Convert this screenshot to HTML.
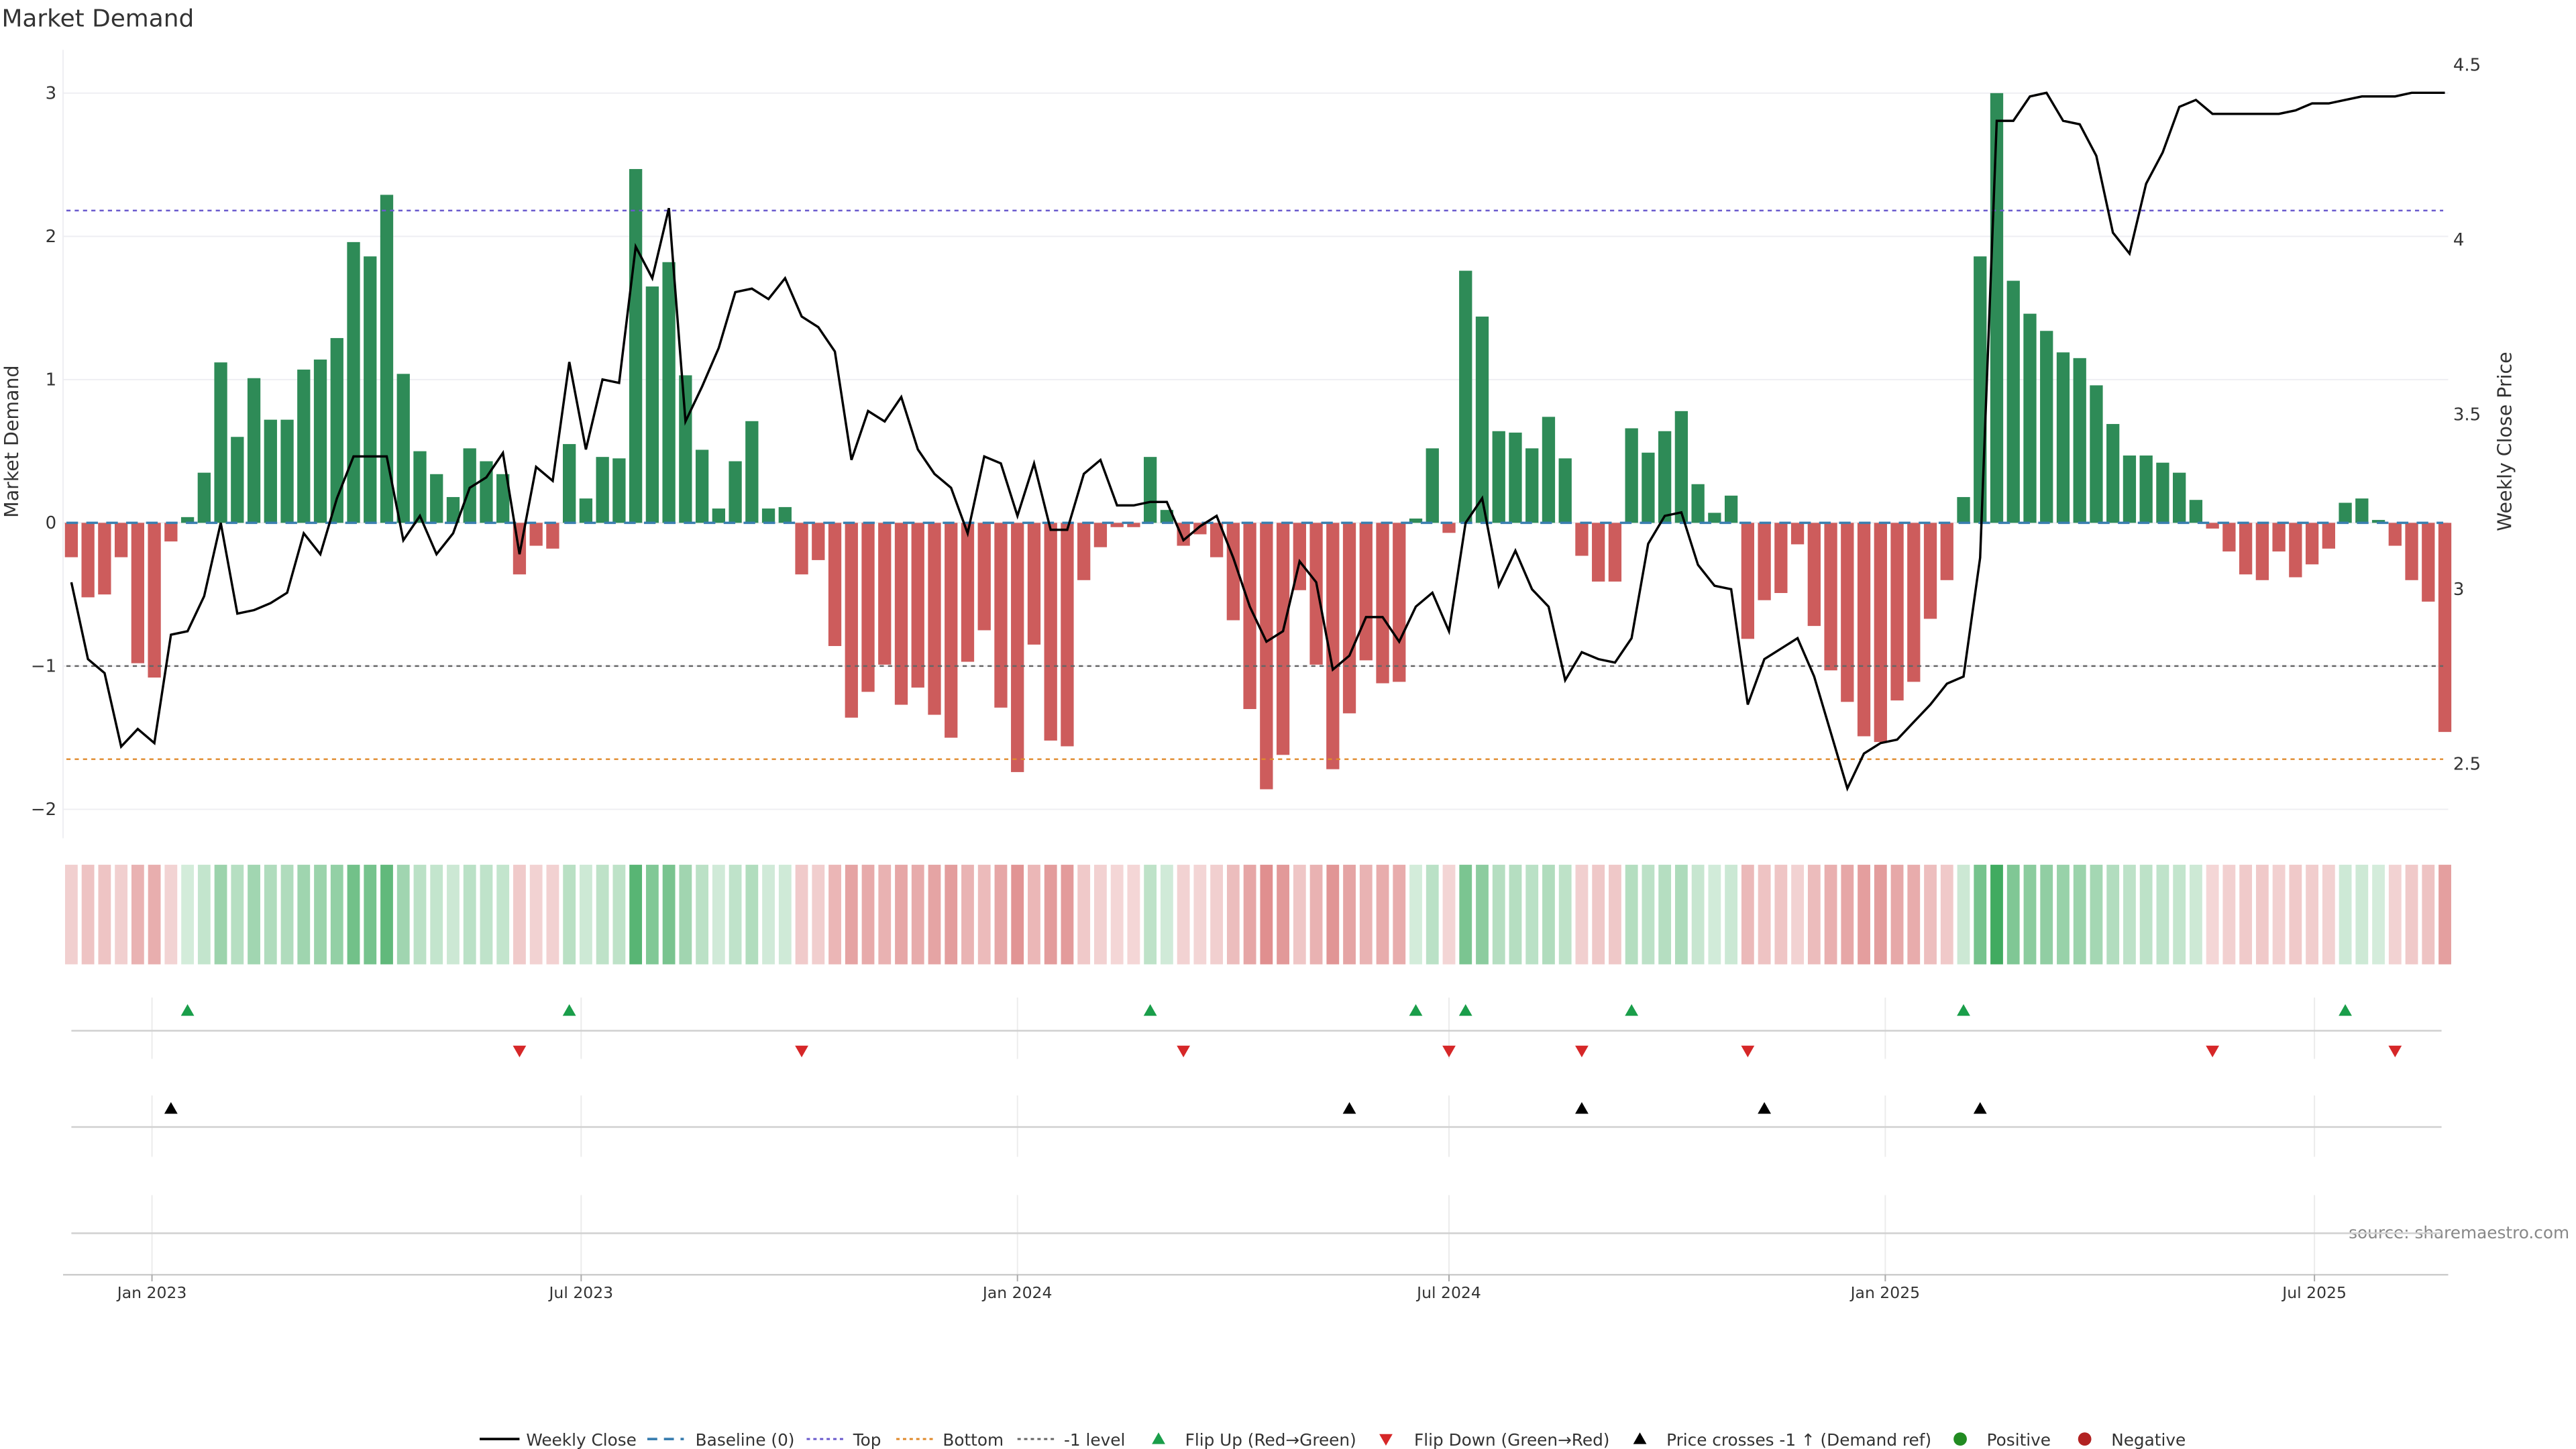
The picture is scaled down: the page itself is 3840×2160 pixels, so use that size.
<!DOCTYPE html>
<html><head><meta charset="utf-8"><style>
html,body{margin:0;padding:0;background:#fff;}
svg{display:block;font-family:"DejaVu Sans","Liberation Sans",sans-serif;}
</style></head><body>
<svg id="chart" width="3840" height="2160" viewBox="0 0 1552 873" preserveAspectRatio="none" xmlns="http://www.w3.org/2000/svg">
<text x="1" y="16" font-size="14.5" fill="#333">Market Demand</text>
<text transform="translate(11,266) rotate(-90)" text-anchor="middle" font-size="11.5" fill="#333">Market Demand</text>
<text transform="translate(1513,266) rotate(-90)" text-anchor="middle" font-size="11.5" fill="#333">Weekly Close Price</text>
<text x="1548" y="746" text-anchor="end" font-size="10" fill="#888">source: sharemaestro.com</text>
<g id="main"></g>
<g id="legend" font-size="10" fill="#333">
  <g><line x1="289" y1="867" x2="313" y2="867" stroke="#000" stroke-width="1.5"/><text x="317" y="871">Weekly Close</text></g>
  <g><line x1="390" y1="867" x2="412" y2="867" stroke="#3a7fb0" stroke-width="1.5" stroke-dasharray="6,4"/><text x="419" y="871">Baseline (0)</text></g>
  <g><line x1="486" y1="867" x2="508" y2="867" stroke="#6a5acd" stroke-width="1.2" stroke-dasharray="2,2"/><text x="514" y="871">Top</text></g>
  <g><line x1="540" y1="867" x2="562" y2="867" stroke="#e08a2c" stroke-width="1.2" stroke-dasharray="2,2"/><text x="568" y="871">Bottom</text></g>
  <g><line x1="613" y1="867" x2="635" y2="867" stroke="#666" stroke-width="1.2" stroke-dasharray="2,2"/><text x="641" y="871">-1 level</text></g>
  <g><path d="M698,863 L702,870 L694,870 Z" fill="#1a9e4a"/><text x="714" y="871">Flip Up (Red→Green)</text></g>
  <g><path d="M831,864 L839,864 L835,871 Z" fill="#d62728"/><text x="852" y="871">Flip Down (Green→Red)</text></g>
  <g><path d="M988,863 L992,870 L984,870 Z" fill="#000"/><text x="1004" y="871">Price crosses -1 ↑ (Demand ref)</text></g>
  <g><circle cx="1181" cy="867" r="4" fill="#228b22"/><text x="1197" y="871">Positive</text></g>
  <g><circle cx="1256" cy="867" r="4" fill="#b22222"/><text x="1272" y="871">Negative</text></g>
</g>
</svg>
<script>
const demand = [-0.24,-0.52,-0.5,-0.24,-0.98,-1.08,-0.13,0.04,0.35,1.12,0.6,1.01,0.72,0.72,1.07,1.14,1.29,1.96,1.86,2.29,1.04,0.5,0.34,0.18,0.52,0.43,0.34,-0.36,-0.16,-0.18,0.55,0.17,0.46,0.45,2.47,1.65,1.82,1.03,0.51,0.1,0.43,0.71,0.1,0.11,-0.36,-0.26,-0.86,-1.36,-1.18,-0.99,-1.27,-1.15,-1.34,-1.5,-0.97,-0.75,-1.29,-1.74,-0.85,-1.52,-1.56,-0.4,-0.17,-0.03,-0.03,0.46,0.09,-0.16,-0.08,-0.24,-0.68,-1.3,-1.86,-1.62,-0.47,-0.99,-1.72,-1.33,-0.96,-1.12,-1.11,0.03,0.52,-0.07,1.76,1.44,0.64,0.63,0.52,0.74,0.45,-0.23,-0.41,-0.41,0.66,0.49,0.64,0.78,0.27,0.07,0.19,-0.81,-0.54,-0.49,-0.15,-0.72,-1.03,-1.25,-1.49,-1.53,-1.24,-1.11,-0.67,-0.4,0.18,1.86,3.0,1.69,1.46,1.34,1.19,1.15,0.96,0.69,0.47,0.47,0.42,0.35,0.16,-0.04,-0.2,-0.36,-0.4,-0.2,-0.38,-0.29,-0.18,0.14,0.17,0.02,-0.16,-0.4,-0.55,-1.46];
const price = [3.02,2.80,2.76,2.55,2.60,2.56,2.87,2.88,2.98,3.19,2.93,2.94,2.96,2.99,3.16,3.10,3.26,3.38,3.38,3.38,3.14,3.21,3.10,3.16,3.29,3.32,3.39,3.10,3.35,3.31,3.65,3.40,3.60,3.59,3.98,3.89,4.09,3.48,3.58,3.69,3.85,3.86,3.83,3.89,3.78,3.75,3.68,3.37,3.51,3.48,3.55,3.40,3.33,3.29,3.16,3.38,3.36,3.21,3.36,3.17,3.17,3.33,3.37,3.24,3.24,3.25,3.25,3.14,3.18,3.21,3.09,2.95,2.85,2.88,3.08,3.02,2.77,2.81,2.92,2.92,2.85,2.95,2.99,2.88,3.19,3.26,3.01,3.11,3.00,2.95,2.74,2.82,2.80,2.79,2.86,3.13,3.21,3.22,3.07,3.01,3.00,2.67,2.80,2.83,2.86,2.75,2.59,2.43,2.53,2.56,2.57,2.62,2.67,2.73,2.75,3.09,4.34,4.34,4.41,4.42,4.34,4.33,4.24,4.02,3.96,4.16,4.25,4.38,4.40,4.36,4.36,4.36,4.36,4.36,4.37,4.39,4.39,4.40,4.41,4.41,4.41,4.42,4.42,4.42];
const yTicks = [3,2,1,0,-1,-2];
const y2Ticks = [4.5,4,3.5,3,2.5];
const xTickLabels = ["Jan 2023","Jul 2023","Jan 2024","Jul 2024","Jan 2025","Jul 2025"];
const xTickDates = ["2023-01-01","2023-07-01","2024-01-01","2024-07-01","2025-01-01","2025-07-01"];
const levels = {top:2.18, bottom:-1.65, minus1:-1};
const priceRef = 2.78;

const NS="http://www.w3.org/2000/svg";
const g=document.getElementById('main');
function mk(tag,attrs,parent){const e=document.createElementNS(NS,tag);for(const k in attrs)e.setAttribute(k,attrs[k]);(parent||g).appendChild(e);return e;}
const X0=43, STEP=10.0, firstDate=new Date("2022-11-28").getTime();
const xi=i=>X0+i*STEP;
const xd=s=>X0+(new Date(s).getTime()-firstDate)/(7*864e5)*STEP;
const yL=v=>315-v*86.3;
const yR=p=>355-(p-3)*210.6;
const L=38,R=1475;

// grid + axes
yTicks.forEach(t=>{
  const l=mk('line',{x1:L,x2:R,y1:yL(t),y2:yL(t),stroke:'#eeeef2','stroke-width':0.8});
  
  
  const tx=mk('text',{x:34,y:yL(t)+3.5,'text-anchor':'end','font-size':10.5,fill:'#333'});
  
  
  tx.textContent=t<0?'\u2212'+Math.abs(t):String(t);
});
y2Ticks.forEach(t=>{
  const tx=mk('text',{x:1478,y:yR(t)+3.5,'font-size':10.5,fill:'#333'});
  
  
  tx.textContent=String(t);
});
const ax=mk('line',{x1:L,x2:L,y1:30,y2:505,stroke:'#eeeef2','stroke-width':0.8});



// bars
demand.forEach((v,i)=>{
  const b=mk('rect',{x:xi(i)-3.9,width:7.8,y:Math.min(yL(v),yL(0)),height:Math.abs(yL(v)-yL(0)),fill:v>=0?'#2e8b57':'#cd5c5c'});
  
  
});
// level lines
function hline(v,color,dash,name,w){const l=mk('line',{x1:40,x2:1472,y1:yL(v),y2:yL(v),stroke:color,'stroke-width':w||1,'stroke-dasharray':dash});
  
  }
hline(levels.top,'#6a5acd','2.5,2.5','top-level-line');
hline(levels.bottom,'#e08a2c','2.5,2.5','bottom-level-line');
hline(levels.minus1,'#666','2.5,2.5','minus1-level-line');
hline(0,'#3a7fb0','7,5','baseline-zero-line',1.4);
// price line
const pts=price.map((p,i)=>xi(i).toFixed(1)+','+yR(p).toFixed(1)).join(' ');
const pl=mk('polyline',{points:pts,fill:'none',stroke:'#000','stroke-width':1.4,'stroke-linejoin':'miter'});



// heatmap
demand.forEach((v,i)=>{
  const a=Math.min(0.9,0.2+(v>=0?0.24:0.2)*Math.abs(v));
  const c=mk('rect',{x:xi(i)-3.8,width:7.6,y:521,height:60,fill:v>=0?'#2ca24f':'#c83c3c','fill-opacity':a});
  
  
});

// panels
[[601,638,621],[660,697,679],[720,768,743]].forEach(p=>{
  xTickDates.forEach(d=>{const v=mk('line',{x1:xd(d),x2:xd(d),y1:p[0],y2:p[1],stroke:'#ececec','stroke-width':0.8});
    
    });
  const h=mk('line',{x1:43,x2:1471,y1:p[2],y2:p[2],stroke:'#d0d0d0','stroke-width':1});
  
  
});
// flips
for(let i=1;i<demand.length;i++){
  const a=demand[i-1]>=0, b=demand[i]>=0, x=xi(i);
  if(!a&&b){const t=mk('path',{d:`M${x},605 L${x+4},612 L${x-4},612 Z`,fill:'#1a9e4a'});
    
    }
  if(a&&!b){const t=mk('path',{d:`M${x-4},630 L${x+4},630 L${x},637 Z`,fill:'#d62728'});
    
    }
  if(price[i-1]<priceRef&&price[i]>=priceRef){const t=mk('path',{d:`M${x},664 L${x+4},671 L${x-4},671 Z`,fill:'#000'});
    
    }
}
// x axis
const xa=mk('line',{x1:L,x2:R,y1:768,y2:768,stroke:'#ccc','stroke-width':1});


xTickLabels.forEach((lab,k)=>{
  const x=xd(xTickDates[k]);
  const tk=mk('line',{x1:x,x2:x,y1:768,y2:772,stroke:'#aaa','stroke-width':0.8});
  
  
  const t=mk('text',{x:x,y:782,'text-anchor':'middle','font-size':9.5,fill:'#333'});
  
  
  t.textContent=lab;
});
</script>
</body></html>
